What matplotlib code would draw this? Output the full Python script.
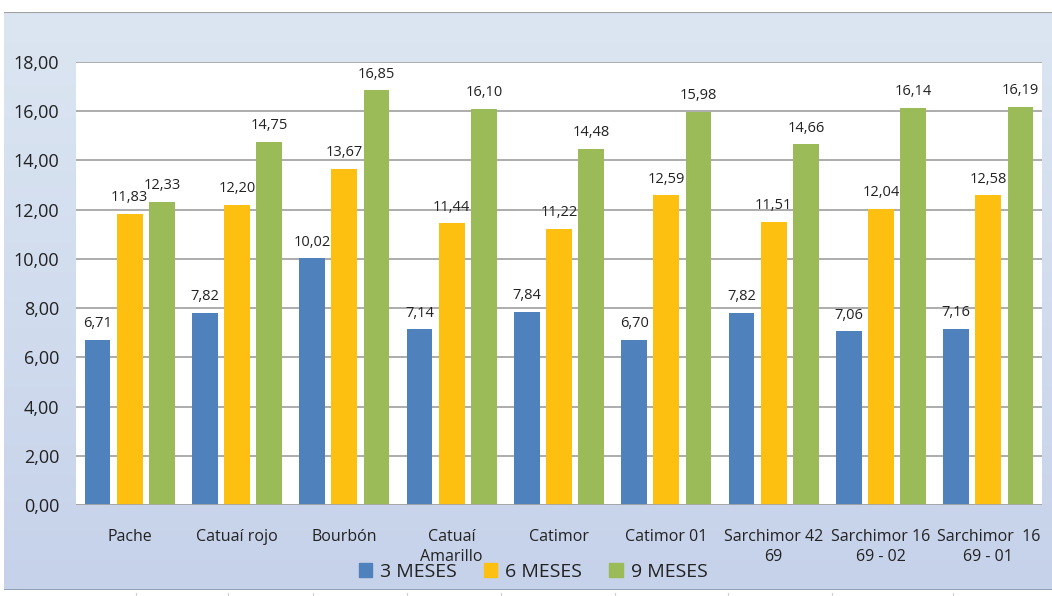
import matplotlib.pyplot as plt
import numpy as np
from matplotlib.patches import Patch

categories = ['Pache', 'Catuaí rojo', 'Bourbón', 'Catuaí\nAmarillo', 'Catimor',
              'Catimor 01', 'Sarchimor 42\n69', 'Sarchimor 16\n69 - 02', 'Sarchimor  16\n69 - 01']
meses_3 = [6.71, 7.82, 10.02, 7.14, 7.84, 6.70, 7.82, 7.06, 7.16]
meses_6 = [11.83, 12.20, 13.67, 11.44, 11.22, 12.59, 11.51, 12.04, 12.58]
meses_9 = [12.33, 14.75, 16.85, 16.10, 14.48, 15.98, 14.66, 16.14, 16.19]
series = [('3 MESES', meses_3, '#4f81bd'),
          ('6 MESES', meses_6, '#fdc010'),
          ('9 MESES', meses_9, '#9bbb59')]

plt.rcParams['font.family'] = ['Open Sans', 'DejaVu Sans']

W, H = 1052, 596
fig = plt.figure(figsize=(W / 100, H / 100), dpi=100)
fig.patch.set_facecolor('white')

# gradient background box
bg = fig.add_axes([4 / W, 1 - 590 / H, 1 - 4 / W, (590 - 12) / H])
top = np.array([0xdc, 0xe6, 0xf2]) / 255
bot = np.array([0xc6, 0xd2, 0xea]) / 255
t = np.linspace(0, 1, 256)[:, None]
grad = top[None, :] * (1 - t) + bot[None, :] * t
bg.imshow(grad[:, None, :], aspect='auto', extent=[0, 1, 0, 1])
bg.axhline(1, color='#a0a0a0', lw=1.5)
bg.axhline(0, color='#8c9bb0', lw=2)
bg.set_xlim(0, 1)
bg.set_ylim(0, 1)
bg.axis('off')

# faint spreadsheet lines below
for xl in [136, 228, 313, 407, 501, 615, 728, 832, 953]:
    fig.add_artist(plt.Line2D([xl / W, xl / W], [0, 1 - 593 / H], color='#d0d0d0', lw=0.8))

ax = fig.add_axes([76 / W, 1 - 505 / H, (1042 - 76) / W, (505 - 62) / H])
ax.set_facecolor('white')
x = np.arange(len(categories))
width = 0.24
offsets = [-0.3, 0.0, 0.3]
for (name, vals, col), off in zip(series, offsets):
    bars = ax.bar(x + off, vals, width, color=col, label=name, zorder=3)
    for b, v in zip(bars, vals):
        ax.text(b.get_x() + b.get_width() / 2, v + 0.35, f'{v:.2f}'.replace('.', ','),
                ha='center', va='bottom', fontsize=10.5, color='#222222', zorder=4)

ax.set_xlim(-0.5, len(categories) - 0.5)
ax.set_ylim(0, 18)
ax.set_yticks(np.arange(0, 18.1, 2))
ax.set_yticklabels([f'{v:.2f}'.replace('.', ',') for v in np.arange(0, 18.1, 2)])
ax.yaxis.grid(True, color='#a6a6a6', lw=1.3, zorder=0)
ax.set_axisbelow(True)
ax.set_xticks(x)
ax.set_xticklabels(categories, fontsize=11.5, linespacing=1.4, va='top', color='#222222')
ax.tick_params(axis='x', length=0, pad=17)
ax.tick_params(axis='y', length=0, pad=12, labelsize=13, labelcolor='#222222')
for s in ax.spines.values():
    s.set_visible(False)
ax.axhline(0, color='#a6a6a6', lw=2, zorder=4)

handles = [Patch(color=c, label=n) for n, _, c in series]
fig.legend(handles=handles, loc='center', bbox_to_anchor=(533 / W, 1 - 572 / H), ncol=3,
           frameon=False, fontsize=14, handlelength=0.7, handleheight=0.7,
           handletextpad=0.4, columnspacing=1.4, labelcolor='#222222')

fig.savefig('out.png', dpi=100)
